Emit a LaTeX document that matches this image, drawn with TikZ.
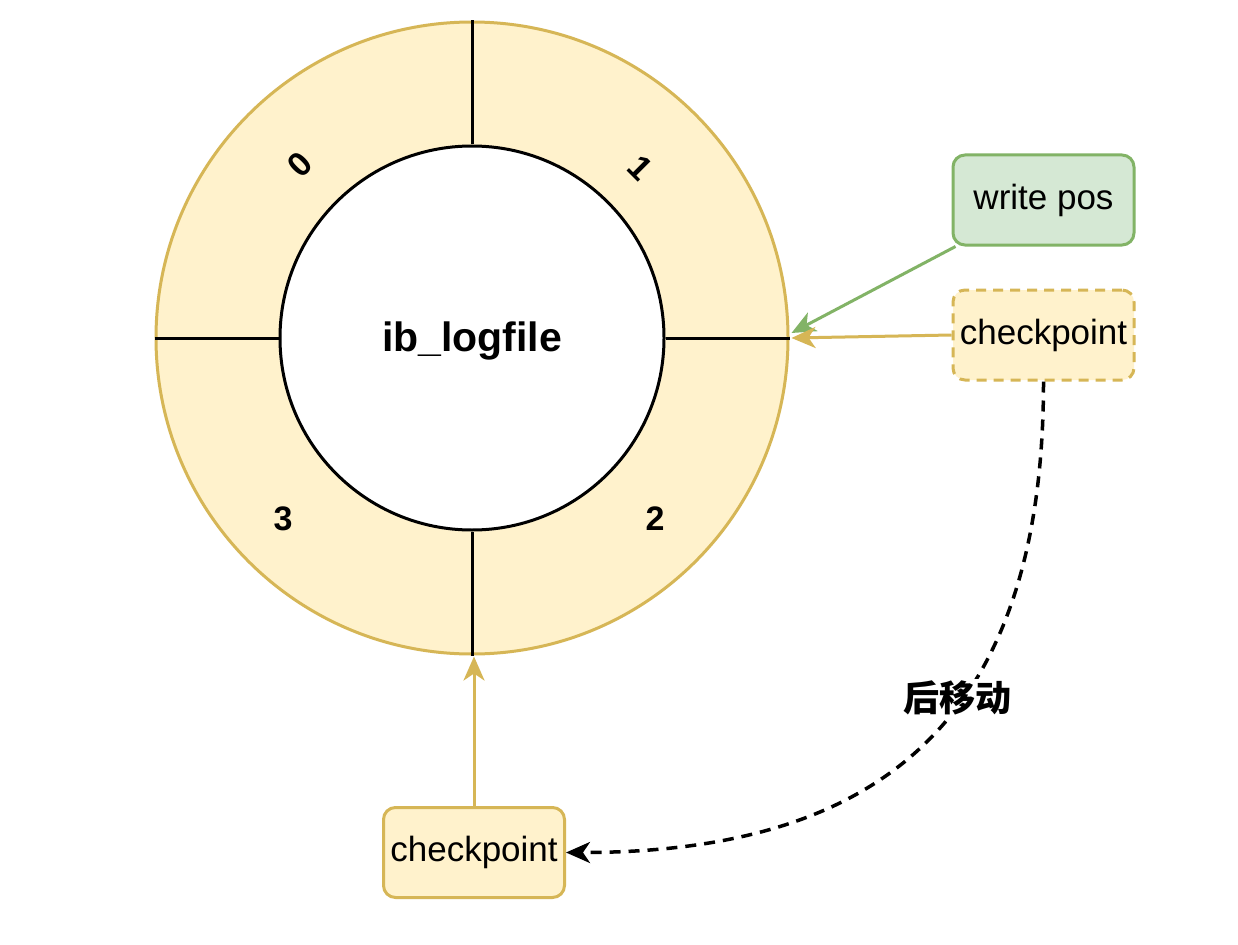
\documentclass[tikz,border=0pt]{standalone}
\usepackage{fontspec}
\setmainfont{Liberation Sans}
\newfontfamily\cjk{Noto Sans CJK SC}
\usetikzlibrary{arrows.meta}
\definecolor{yfill}{HTML}{FFF2CC}
\definecolor{ystroke}{HTML}{D6B656}
\definecolor{gfill}{HTML}{D5E8D4}
\definecolor{gstroke}{HTML}{82B366}
\tikzset{
  lbl/.style={font=\bfseries\fontsize{34}{40}\selectfont, inner sep=0pt},
  box/.style={rectangle, rounded corners=12pt, line width=3pt, minimum width=181pt, minimum height=90pt, inner sep=0pt, font=\fontsize{35}{42}\selectfont},
  tip/.style={-{Stealth[length=24pt,width=21pt,inset=7pt]}},
  yarrow/.style={tip, draw=ystroke, line width=3pt},
  garrow/.style={tip, draw=gstroke, line width=3pt},
  divider/.style={draw=black, line width=3pt}
}
\begin{document}
\begin{tikzpicture}[x=1pt,y=-1pt]
\useasboundingbox[fill=white] (0,0) rectangle (1238,944);
\node[circle, draw=ystroke, fill=yfill, line width=3pt, minimum size=632pt, inner sep=0pt] (ring) at (472,338) {};
\node[circle, draw=black, fill=white, line width=3pt, minimum size=384pt, inner sep=0pt] (core) at (472,338) {};
\node[font=\bfseries\fontsize{41}{48}\selectfont, inner sep=0pt] (title) at (472,341) {ib\_logfile};
\draw[divider] (ring.north) -- (core.north);
\draw[divider] (ring.south) -- (core.south);
\draw[divider] (ring.west) -- (core.west);
\draw[divider] (ring.east) -- (core.east);
\node[lbl, rotate=45] (d0) at (300,165) {0};
\node[lbl, rotate=-45] (d1) at (640,168) {1};
\node[lbl] (d2) at (655,519) {2};
\node[lbl] (d3) at (283,519) {3};
\node[box, draw=gstroke, fill=gfill] (wp) at (1043.5,200) {write pos};
\node[box, draw=ystroke, fill=yfill, dashed, dash pattern=on 10pt off 7pt] (cp1) at (1043.5,335) {checkpoint};
\node[box, draw=ystroke, fill=yfill] (cp2) at (474,852.5) {checkpoint};
\draw[garrow] ([xshift=4pt]wp.south west) -- ([xshift=2pt,yshift=5pt]ring.east);
\draw[yarrow] (cp1.west) -- ([xshift=2pt]ring.east);
\draw[yarrow] (cp2.north) -- ([yshift=-1pt]cp2.north |- ring.south);
\draw[tip, line width=3.5pt, dash pattern=on 11pt off 8pt] (cp1.south) .. controls +(0,340) and +(313,0) .. (cp2.east);
\node[fill=white, inner sep=2pt, font=\cjk\bfseries\fontsize{36}{42}\selectfont] (move) at (957,698) {后移动};
\end{tikzpicture}
\end{document}
